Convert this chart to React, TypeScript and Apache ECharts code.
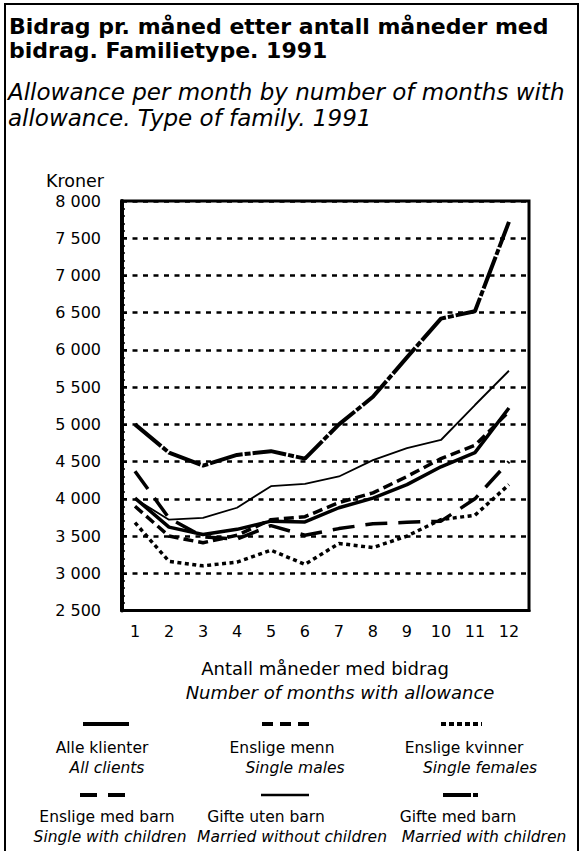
import React, { useEffect, useRef } from "react";
import * as echarts from "echarts";

const months = [1, 2, 3, 4, 5, 6, 7, 8, 9, 10, 11, 12];

const alleKlienter = [4010, 3620, 3520, 3590, 3700, 3690, 3880, 4010, 4190, 4430, 4620, 5220];
const ensligeMenn = [3900, 3500, 3410, 3510, 3720, 3760, 3950, 4080, 4300, 4540, 4720, 5170];
const ensligeKvinner = [3680, 3160, 3100, 3150, 3310, 3120, 3400, 3345, 3500, 3720, 3780, 4190];
const ensligeMedBarn = [4370, 3740, 3490, 3460, 3640, 3510, 3600, 3665, 3685, 3700, 4000, 4500];
const gifteUtenBarn = [4000, 3720, 3745, 3880, 4170, 4200, 4300, 4520, 4680, 4790, 5260, 5720];
const gifteMedBarn = [5000, 4620, 4445, 4590, 4640, 4540, 5000, 5370, 5900, 6420, 6520, 7720];

const seriesNames = [
  "Alle klienter",
  "Enslige menn",
  "Enslige kvinner",
  "Enslige med barn",
  "Gifte uten barn",
  "Gifte med barn",
];
const seriesNamesEn = [
  "All clients",
  "Single males",
  "Single females",
  "Single with children",
  "Married without children",
  "Married with children",
];
const seriesValues = [alleKlienter, ensligeMenn, ensligeKvinner, ensligeMedBarn, gifteUtenBarn, gifteMedBarn];

const titleLines = ["Bidrag pr. måned etter antall måneder med", "bidrag. Familietype. 1991"];
const subtitleLines = ["Allowance per month by number of months with", "allowance. Type of family. 1991"];
const yAxisName = "Kroner";
const xAxisName = "Antall måneder med bidrag";
const xAxisNameEn = "Number of months with allowance";

// line styles (not data)
const lineStyles: any[] = [
  { width: 3.5, type: "solid" },
  { width: 3.5, type: [10, 5] },
  { width: 3.5, type: [4, 3.5] },
  { width: 3.5, type: [22, 11] },
  { width: 1.8, type: "solid" },
  { width: 4, type: [34, 2, 6, 2] },
];

// legend layout (not data)
const legendLayout = [
  { sx1: 83, sx2: 129, sy: 724, tx: 102, ty: 748, ex: 107, ey: 768 },
  { sx1: 262, sx2: 309, sy: 724, tx: 282, ty: 748, ex: 295, ey: 768 },
  { sx1: 441, sx2: 482, sy: 724, tx: 464, ty: 748, ex: 480, ey: 768 },
  { sx1: 80, sx2: 127, sy: 795, tx: 107, ty: 817, ex: 110, ey: 837 },
  { sx1: 261, sx2: 309, sy: 795, tx: 266, ty: 817, ex: 292, ey: 837 },
  { sx1: 443, sx2: 480, sy: 795, tx: 458, ty: 817, ex: 484, ey: 837 },
];
const legendDash: any[] = [null, [11, 7], [5, 3], [17, 11], null, [28, 2, 5, 2]];

const FONT = "'DejaVu Sans', 'Liberation Sans', Arial, sans-serif";

function fmt(v: number) {
  return String(v).replace(/\B(?=(\d{3})+(?!\d))/g, " ");
}

export default function App() {
  const ref = useRef<HTMLDivElement>(null);
  useEffect(() => {
    if (!ref.current) return;
    const chart = echarts.init(ref.current, undefined, { renderer: "svg" });

    const graphic: any[] = [];
    graphic.push({
      type: "rect",
      shape: { x: 5, y: 4, width: 573, height: 860 },
      style: { fill: "none", stroke: "#000", lineWidth: 2 },
      silent: true,
    });
    titleLines.forEach((t, i) => {
      graphic.push({
        type: "text",
        x: 9,
        y: [26, 50][i],
        style: {
          text: t,
          fontFamily: FONT,
          fontSize: 22,
          fontWeight: "bold",
          fill: "#000",
          align: "left",
          verticalAlign: "middle",
        },
      });
    });
    subtitleLines.forEach((t, i) => {
      graphic.push({
        type: "text",
        x: 8,
        y: [92, 118][i],
        style: {
          text: t,
          fontFamily: FONT,
          fontSize: 23,
          fontStyle: "italic",
          fill: "#000",
          align: "left",
          verticalAlign: "middle",
        },
      });
    });
    graphic.push({
      type: "text",
      x: 46,
      y: 181,
      style: { text: yAxisName, fontFamily: FONT, fontSize: 17.5, fill: "#000", align: "left", verticalAlign: "middle" },
    });
    graphic.push({
      type: "text",
      x: 325,
      y: 668,
      style: { text: xAxisName, fontFamily: FONT, fontSize: 18, fill: "#000", align: "center", verticalAlign: "middle" },
    });
    graphic.push({
      type: "text",
      x: 340,
      y: 692,
      style: {
        text: xAxisNameEn,
        fontFamily: FONT,
        fontSize: 18,
        fontStyle: "italic",
        fill: "#000",
        align: "center",
        verticalAlign: "middle",
      },
    });
    legendLayout.forEach((L, i) => {
      const ls = lineStyles[i];
      graphic.push({
        type: "line",
        shape: { x1: L.sx1, y1: L.sy, x2: L.sx2, y2: L.sy },
        style: {
          stroke: "#000",
          lineWidth: ls.width < 2 ? 2.5 : 4,
          lineDash: legendDash[i],
        },
      });
      graphic.push({
        type: "text",
        x: L.tx,
        y: L.ty,
        style: { text: seriesNames[i], fontFamily: FONT, fontSize: 15.5, fill: "#000", align: "center", verticalAlign: "middle" },
      });
      graphic.push({
        type: "text",
        x: L.ex,
        y: L.ey,
        style: {
          text: seriesNamesEn[i],
          fontFamily: FONT,
          fontSize: 15.5,
          fontStyle: "italic",
          fill: "#000",
          align: "center",
          verticalAlign: "middle",
        },
      });
    });

    chart.setOption({
      animation: false,
      backgroundColor: "#fff",
      grid: {
        left: 122,
        right: 52,
        top: 201,
        bottom: 240.5,
        show: true,
        borderColor: "#000",
        borderWidth: 3,
        backgroundColor: "transparent",
      },
      xAxis: {
        type: "value",
        min: 0.618,
        max: 12.59,
        axisLine: { show: true, lineStyle: { color: "#000", width: 3 } },
        axisTick: { show: false },
        splitLine: { show: false },
        axisLabel: {
          customValues: months,
          formatter: (v: number) => String(v),
          color: "#000",
          fontFamily: FONT,
          fontSize: 16,
          margin: 13,
          showMinLabel: true,
          showMaxLabel: true,
        },
      },
      yAxis: {
        type: "value",
        min: 2500,
        max: 8000,
        interval: 500,
        axisLine: { show: true, lineStyle: { color: "#000", width: 4 } },
        axisTick: { show: true, inside: true, length: 5, lineStyle: { color: "#000", width: 2 } },
        minorTick: { show: true, splitNumber: 5, length: 3, lineStyle: { color: "#000", width: 1.5 } },
        splitLine: { show: true, lineStyle: { color: "#000", width: 2.5, type: [5, 5.5] } },
        axisLabel: {
          formatter: (v: number) => fmt(v),
          color: "#000",
          fontFamily: FONT,
          fontSize: 16,
          margin: 21,
        },
      },
      series: seriesValues.map((vals, i) => ({
        name: seriesNames[i],
        type: "line",
        symbol: "none",
        data: months.map((m, j) => [m, vals[j]]),
        lineStyle: { color: "#000", width: lineStyles[i].width, type: lineStyles[i].type },
        z: 3,
      })),
      graphic,
    });
    return () => chart.dispose();
  }, []);
  return (
    <div
      ref={ref}
      style={{ position: "absolute", left: 0, top: 0, width: 581, height: 851, background: "#fff" }}
    />
  );
}
